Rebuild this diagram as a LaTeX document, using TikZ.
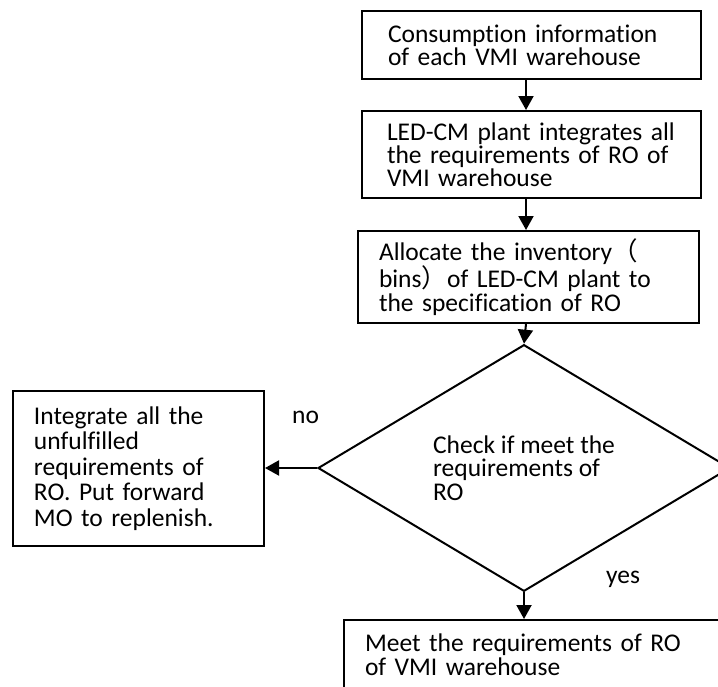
\documentclass[tikz,border=0pt]{standalone}
\usepackage{fontspec}
\setmainfont{Carlito}[Ligatures={NoCommon,NoDiscretionary,NoContextual}]
\newfontfamily\cjk{Noto Sans CJK SC}
\usetikzlibrary{shapes.geometric,arrows.meta}
\tikzset{
  every node/.style={font=\fontsize{25.5}{21.5}\selectfont},
  box/.style={draw, line width=2pt, rectangle, anchor=north west, align=left, inner ysep=0pt},
  flow/.style={line width=2pt, -{Triangle[length=14pt,width=15pt]}},
  lbl/.style={inner sep=0pt, anchor=base west}
}
\begin{document}
\begin{tikzpicture}[x=1pt,y=-1pt]
\useasboundingbox (0,0) rectangle (718,686);
\clip (0,0) rectangle (718,686);
\node[box, minimum width=339pt, minimum height=68pt, inner xsep=26pt, text width=287pt] (b1) at (361,10)
  {Consumption information\\of each VMI warehouse};
\node[box, minimum width=339pt, minimum height=87pt, inner xsep=25pt, text width=289pt] (b2) at (361,110)
  {LED-CM plant integrates all\\the requirements of RO of\\VMI warehouse};
\node[box, minimum width=341pt, minimum height=92pt, inner xsep=21pt, text width=299pt,
  font=\fontsize{25.5}{24}\selectfont] (b3) at (357,230)
  {Allocate the inventory{\cjk （}\\bins{\cjk ）}of LED-CM plant to\\the specification of RO};
\node[draw, line width=2pt, diamond, minimum width=412pt, minimum height=218pt, inner sep=0pt,
  align=left, font=\fontsize{25.5}{23.5}\selectfont] (d) at (524,468)
  {Check if meet the\\requirements of\\RO};
\node[box, minimum width=251pt, minimum height=155pt, inner xsep=21pt, text width=209pt,
  font=\fontsize{25.5}{25.5}\selectfont] (l) at (12,390)
  {Integrate all the\\unfulfilled\\requirements of\\RO. Put forward\\MO to replenish.};
\node[box, minimum width=400pt, minimum height=69pt, inner xsep=21pt, text width=358pt,
  font=\fontsize{25.5}{24}\selectfont] (b4) at (343,619)
  {Meet the requirements of RO\\of VMI warehouse};
\draw[flow] (b1.south -| 526,0) -- (b2.north -| 526,0);
\draw[flow] (b2.south -| 526,0) -- (b3.north -| 526,0);
\draw[flow] (b3.south -| 526,0) -- (d.north);
\draw[flow] (d.west) -- (l.east |- d.west);
\draw[flow] (d.south) -- (b4.north -| d.south);
\node[lbl] (no) at (292,423) {no};
\node[lbl] (yes) at (606,583) {yes};
\end{tikzpicture}
\end{document}
